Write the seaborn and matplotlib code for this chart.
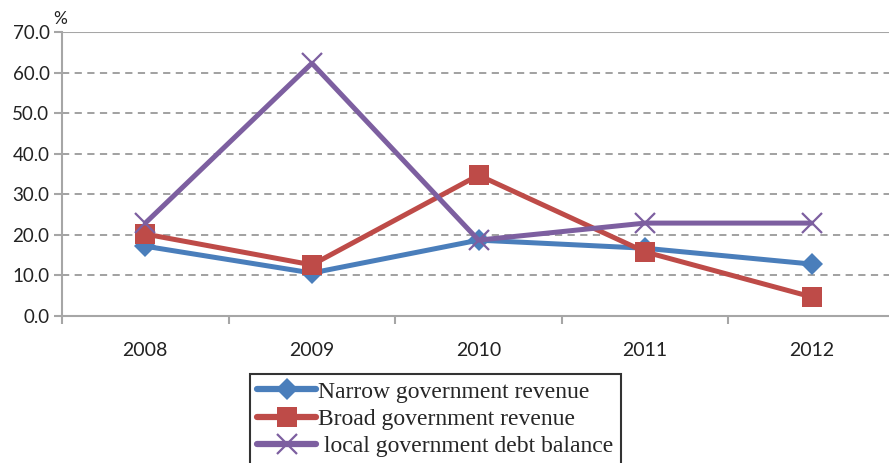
import matplotlib
matplotlib.use("Agg")
import matplotlib.pyplot as plt
import seaborn as sns
import pandas as pd
from matplotlib.ticker import FixedLocator, FormatStrFormatter

years = ["2008", "2009", "2010", "2011", "2012"]
narrow = [17.2, 10.6, 18.7, 16.7, 12.8]
broad = [20.2, 12.6, 34.7, 15.8, 4.7]
local_debt = [22.9, 62.3, 18.7, 22.9, 22.9]
series_names = ["Narrow government revenue", "Broad government revenue",
                " local government debt balance"]
y_ticks = [0, 10, 20, 30, 40, 50, 60, 70]

df = pd.DataFrame({
    "year": years * 3,
    "value": narrow + broad + local_debt,
    "series": [series_names[0]] * 5 + [series_names[1]] * 5 + [series_names[2]] * 5,
})

sns.set_theme(style="white")
plt.rcParams["font.family"] = ["Lato", "DejaVu Sans"]

fig = plt.figure(figsize=(8.89, 4.63), dpi=100)
ax = fig.add_axes([62 / 889, 1 - 316 / 463, (895 - 62) / 889, (316 - 32) / 463])

palette = {series_names[0]: "#4A7EBB", series_names[1]: "#BE4B48", series_names[2]: "#7D5FA0"}
markers = {series_names[0]: "D", series_names[1]: "s", series_names[2]: "x"}
sizes = {series_names[0]: 11.5, series_names[1]: 14, series_names[2]: 15}

for name in series_names:
    sub = df[df["series"] == name]
    sns.lineplot(data=sub, x="year", y="value", ax=ax, color=palette[name],
                 marker=markers[name], markersize=sizes[name], linewidth=3.6,
                 markeredgewidth=1.6 if markers[name] == "x" else 0,
                 markeredgecolor=palette[name], label=name, sort=False)

ax.set_xlim(-0.5, 4.5)
ax.set_ylim(0, 70)
ax.yaxis.set_major_locator(FixedLocator(y_ticks))
ax.yaxis.set_major_formatter(FormatStrFormatter("%.1f"))
ax.set_xlabel("")
ax.set_ylabel("")

for y in y_ticks[1:-1]:
    ax.axhline(y, color="#9a9a9a", linestyle=(0, (4, 3)), linewidth=1.3, zorder=0)
ax.axhline(70, color="#a6a6a6", linewidth=1.5, zorder=0)

for s in ["top", "right"]:
    ax.spines[s].set_visible(False)
for s in ["left", "bottom"]:
    ax.spines[s].set_color("#a6a6a6")
    ax.spines[s].set_linewidth(1.5)

ax.xaxis.set_minor_locator(FixedLocator([-0.5, 0.5, 1.5, 2.5, 3.5, 4.5]))
ax.tick_params(axis="x", which="major", length=0, pad=19, labelsize=14, colors="#222222")
ax.tick_params(axis="x", which="minor", length=6, width=1.5, color="#a6a6a6", bottom=True)
ax.tick_params(axis="y", which="major", length=6, width=1.5, color="#a6a6a6", left=True,
               labelsize=13.5, colors="#222222", pad=3)

ax.text(-0.51, 71.2, "%", fontsize=12.5, ha="center", va="bottom", color="#222222")

leg = ax.legend(loc="upper left", bbox_to_anchor=(250 / 889, 1 - 374 / 463),
                bbox_transform=fig.transFigure, frameon=True, fancybox=False,
                prop={"family": "Liberation Serif", "size": 17},
                handlelength=2.5, handletextpad=0.1, labelspacing=0.25,
                borderpad=0.3, borderaxespad=0)
leg.get_frame().set_edgecolor("black")
leg.get_frame().set_linewidth(1.5)
for line in leg.get_lines():
    line.set_linewidth(4.5)

fig.savefig("out.png", dpi=100)
